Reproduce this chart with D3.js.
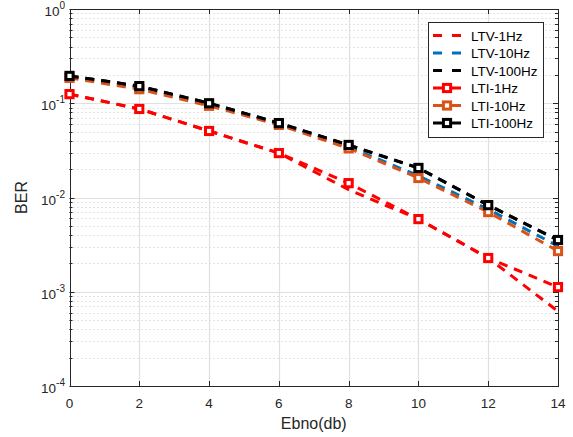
<!DOCTYPE html>
<html><head><meta charset="utf-8">
<script src="https://cdn.jsdelivr.net/npm/d3@7"></script>
<style>
body{margin:0;background:#fff}
svg{display:block;font-family:"Liberation Sans",Arial,Helvetica,sans-serif}
</style>
</head><body>
<svg id="chart" width="573" height="437"></svg>
<script>
// Eb/N0 sample points (dB)
const ebno = [0, 2, 4, 6, 8, 10, 12, 14];
const xTicks = [0, 2, 4, 6, 8, 10, 12, 14];
const yDecades = [-4, -3, -2, -1, 0];

// Bit error rate per channel model
const ltv1Hz   = [0.125, 0.087, 0.0508, 0.0296, 0.0121, 0.0059, 0.00228, 0.00062];
const ltv10Hz  = [0.190, 0.146, 0.096, 0.0605, 0.0345, 0.0170, 0.0075, 0.00305];
const ltv100Hz = [0.195, 0.152, 0.100, 0.0616, 0.0360, 0.0205, 0.0083, 0.00352];
const lti1Hz   = [0.125, 0.087, 0.0508, 0.0296, 0.0142, 0.0059, 0.00228, 0.00112];
const lti10Hz  = [0.186, 0.141, 0.094, 0.0590, 0.0332, 0.0161, 0.0070, 0.00270];
const lti100Hz = [0.195, 0.152, 0.100, 0.0616, 0.0361, 0.0206, 0.0083, 0.00354];

const seriesNames  = ["LTV-1Hz", "LTV-10Hz", "LTV-100Hz", "LTI-1Hz", "LTI-10Hz", "LTI-100Hz"];
const seriesValues = [ltv1Hz, ltv10Hz, ltv100Hz, lti1Hz, lti10Hz, lti100Hz];
const seriesColors = ["#ff0000", "#0072bd", "#000000", "#ff0000", "#d95319", "#000000"];
const seriesMarker = [false, false, false, true, true, true];

const svg = d3.select("#chart");
const L = 69.5, R = 558, T = 9, B = 386;
const axisColor = "#262626";

const x = d3.scaleLinear().domain([0, 14]).range([L, R]);
const y = d3.scaleLog().domain([1e-4, 1]).range([B, T]);

// minor grid (dotted) and major grid (solid)
const minorVals = [];
for (let d = -4; d < 0; d++) for (let k = 2; k <= 9; k++) minorVals.push(k * Math.pow(10, d));
const grid = svg.append("g");
grid.selectAll("line.minor").data(minorVals).join("line")
  .attr("x1", L).attr("x2", R)
  .attr("y1", d => Math.round(y(d)) + 0.5).attr("y2", d => Math.round(y(d)) + 0.5)
  .attr("stroke", "#c8c8c8").attr("stroke-width", 1).attr("stroke-dasharray", "1,3");
grid.selectAll("line.hmaj").data(yDecades.slice(1, -1)).join("line")
  .attr("x1", L).attr("x2", R)
  .attr("y1", d => Math.round(y(Math.pow(10, d))) + 0.5).attr("y2", d => Math.round(y(Math.pow(10, d))) + 0.5)
  .attr("stroke", "#e0e0e0").attr("stroke-width", 1.2);
grid.selectAll("line.vmaj").data(xTicks.slice(1, -1)).join("line")
  .attr("x1", d => Math.round(x(d)) + 0.5).attr("x2", d => Math.round(x(d)) + 0.5)
  .attr("y1", T).attr("y2", B)
  .attr("stroke", "#e0e0e0").attr("stroke-width", 1.2);

// axes with inward ticks on all four sides
const ax = svg.append("g");
const yMajorVals = yDecades.map(d => Math.pow(10, d));
const tickLines = [];
yMajorVals.forEach(v => { tickLines.push({x1: L, x2: L + 5, y: y(v)}); tickLines.push({x1: R, x2: R - 5, y: y(v)}); });
minorVals.forEach(v => { tickLines.push({x1: L, x2: L + 3, y: y(v)}); tickLines.push({x1: R, x2: R - 3, y: y(v)}); });
ax.selectAll("line.yt").data(tickLines).join("line")
  .attr("x1", d => d.x1).attr("x2", d => d.x2)
  .attr("y1", d => Math.round(d.y) + 0.5).attr("y2", d => Math.round(d.y) + 0.5)
  .attr("stroke", axisColor);
const xt = [];
xTicks.forEach(v => { xt.push({x: x(v), y1: B, y2: B - 5}); xt.push({x: x(v), y1: T, y2: T + 5}); });
ax.selectAll("line.xt").data(xt).join("line")
  .attr("x1", d => Math.round(d.x) + 0.5).attr("x2", d => Math.round(d.x) + 0.5)
  .attr("y1", d => d.y1).attr("y2", d => d.y2)
  .attr("stroke", axisColor);
ax.append("rect").attr("x", Math.round(L) + 0.5).attr("y", T + 0.5)
  .attr("width", Math.round(R) - Math.round(L)).attr("height", B - T)
  .attr("fill", "none").attr("stroke", axisColor).attr("stroke-width", 1);

// tick labels
ax.selectAll("text.xl").data(xTicks).join("text")
  .attr("x", d => x(d)).attr("y", 408)
  .attr("text-anchor", "middle").attr("font-size", 13.5).attr("fill", axisColor)
  .text(d => d);
const yl = ax.selectAll("text.yl").data(yDecades).join("text")
  .attr("x", 65).attr("y", d => y(Math.pow(10, d)) + 7)
  .attr("text-anchor", "end").attr("font-size", 13.5).attr("fill", axisColor);
yl.append("tspan").text("10");
yl.append("tspan").attr("font-size", 10).attr("dy", -7).text(d => d === 0 ? "0" : "-" + Math.abs(d));

// axis titles
svg.append("text").attr("x", (L + R) / 2).attr("y", 429)
  .attr("text-anchor", "middle").attr("font-size", 16).attr("fill", axisColor).text("Ebno(db)");
svg.append("text").attr("transform", `translate(27,${(T + B) / 2}) rotate(-90)`)
  .attr("text-anchor", "middle").attr("font-size", 16).attr("fill", axisColor).text("BER");

// curves
const line = d3.line().x((d, i) => x(ebno[i])).y(d => y(d));
const plot = svg.append("g");
seriesValues.forEach((vals, s) => {
  plot.append("path").datum(vals).attr("d", line)
    .attr("fill", "none").attr("stroke", seriesColors[s]).attr("stroke-width", 3)
    .attr("stroke-dasharray", "9,7");
  if (seriesMarker[s]) {
    plot.selectAll(null).data(vals).join("rect")
      .attr("x", (d, i) => x(ebno[i]) - 3.6).attr("y", d => y(d) - 3.6)
      .attr("width", 7.2).attr("height", 7.2)
      .attr("fill", "#fff").attr("stroke", seriesColors[s]).attr("stroke-width", 3);
  }
});

// legend
const lg = svg.append("g");
lg.append("rect").attr("x", 428.5).attr("y", 22.5).attr("width", 115).attr("height", 115)
  .attr("fill", "#fff").attr("stroke", axisColor).attr("stroke-width", 1);
seriesNames.forEach((name, s) => {
  const ry = 35.5 + s * 17.5;
  lg.append("line").attr("x1", 433).attr("x2", 461).attr("y1", ry).attr("y2", ry)
    .attr("stroke", seriesColors[s]).attr("stroke-width", 3).attr("stroke-dasharray", "9,10");
  if (seriesMarker[s]) {
    lg.append("rect").attr("x", 447 - 3.6).attr("y", ry - 3.6).attr("width", 7.2).attr("height", 7.2)
      .attr("fill", "#fff").attr("stroke", seriesColors[s]).attr("stroke-width", 3);
  }
  lg.append("text").attr("x", 471).attr("y", ry + 5).attr("font-size", 13.5).attr("fill", "#000").text(name);
});
</script>
</body></html>
